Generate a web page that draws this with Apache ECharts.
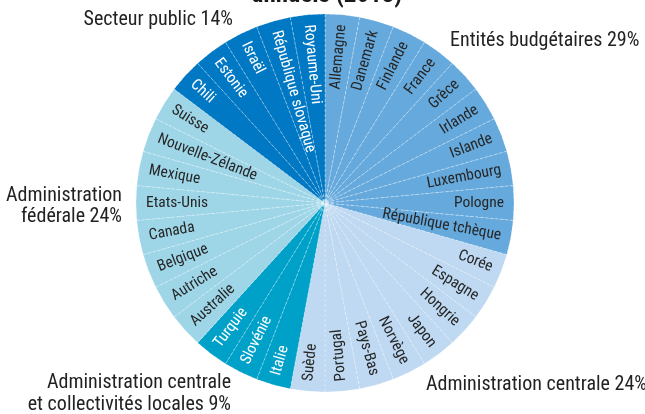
<!DOCTYPE html>
<html><head><meta charset="utf-8">
<script src="https://cdn.jsdelivr.net/npm/echarts@6/dist/echarts.min.js"></script>
<style>html,body{margin:0;padding:0;background:#fff}#c{width:645px;height:414px}</style>
</head><body><div id="c"></div>
<script>
// ---- data ----
const titleText = 'annuels (2013)';
const groupLabels = [
  'Entités budgétaires 29%',
  'Administration centrale 24%',
  'Administration centrale\net collectivités locales 9%',
  'Administration\nfédérale 24%',
  'Secteur public 14%'
];
const groupColors = ['#66aadd', '#bed9f1', '#00a1c9', '#9ed6e8', '#0078c3'];
const groupTextColors = ['#262626', '#262626', '#ffffff', '#262626', '#ffffff'];
const countries = [
  'Allemagne','Danemark','Finlande','France','Grèce','Irlande','Islande','Luxembourg','Pologne','République tchèque',
  'Corée','Espagne','Hongrie','Japon','Norvège','Pays-Bas','Portugal','Suède',
  'Italie','Slovénie','Turquie',
  'Australie','Autriche','Belgique','Canada','Etats-Unis','Mexique','Nouvelle-Zélande','Suisse',
  'Chili','Estonie','Israël','République slovaque','Royaume-Uni'
];
const countryGroup = [
  0,0,0,0,0,0,0,0,0,0,
  1,1,1,1,1,1,1,1,
  2,2,2,
  3,3,3,3,3,3,3,3,
  4,4,4,4,4
];
const countryValues = [
  1,1,1,1,1,1,1,1,1,1,
  1,1,1,1,1,1,1,1,
  1,1,1,
  1,1,1,1,1,1,1,1,
  1,1,1,1,1
];

// ---- build ----
const total = countryValues.reduce((a, b) => a + b, 0);
let acc = 0;
const flipFlags = [];
const data = countries.map((name, i) => {
  const mid = (acc + countryValues[i] / 2) / total * 360; // clockwise from top
  acc += countryValues[i];
  const flip = mid > 170;
  flipFlags.push(flip);
  let rot = flip ? 270 - mid : 90 - mid;
  while (rot > 180) rot -= 360;
  while (rot <= -180) rot += 360;
  const g = countryGroup[i];
  return {
    name, value: countryValues[i],
    itemStyle: { color: groupColors[g] },
    label: { rotate: rot, color: groupTextColors[g] }
  };
});

const FONT = '"Roboto Condensed", "Liberation Sans", Arial, sans-serif';
const chart = echarts.init(document.getElementById('c'), null, { renderer: 'canvas' });
const txt = (text, x, y, align, lh) => ({
  type: 'text', x, y,
  style: { text, fill: '#222', font: '20px ' + FONT, align, verticalAlign: 'middle', lineHeight: lh || 22 }
});
chart.setOption({
  animation: false,
  backgroundColor: '#fff',
  series: [{
    type: 'pie',
    center: [325, 203],
    radius: [0, 189],
    startAngle: 90,
    clockwise: true,
    avoidLabelOverlap: false,
    minShowLabelAngle: 0,
    silent: true,
    itemStyle: { borderColor: 'rgba(255,255,255,0.45)', borderWidth: 0.7, borderType: [3, 2] },
    labelLine: { show: false },
    label: {
      show: true,
      position: 'inside',
      width: 163,
      overflow: 'none',
      fontFamily: FONT,
      fontSize: 15.5,
      formatter: p => (flipFlags[p.dataIndex] ? '{l|' : '{r|') + p.name + '}',
      rich: {
        l: { align: 'left', fontFamily: FONT, fontSize: 15.5 },
        r: { align: 'right', fontFamily: FONT, fontSize: 15.5 }
      }
    },
    data
  }],
  graphic: [
    { type: 'text', x: 327, y: 8, style: { text: titleText, fill: '#1a1a1a', font: 'bold 25px ' + FONT, align: 'center', verticalAlign: 'bottom' } },
    txt(groupLabels[4], 233, 20, 'right'),
    txt(groupLabels[0], 450, 41, 'left'),
    txt(groupLabels[3], 122, 206, 'right', 21),
    txt(groupLabels[2], 231, 394, 'right', 22),
    txt(groupLabels[1], 426, 385, 'left')
  ]
});
</script></body></html>
